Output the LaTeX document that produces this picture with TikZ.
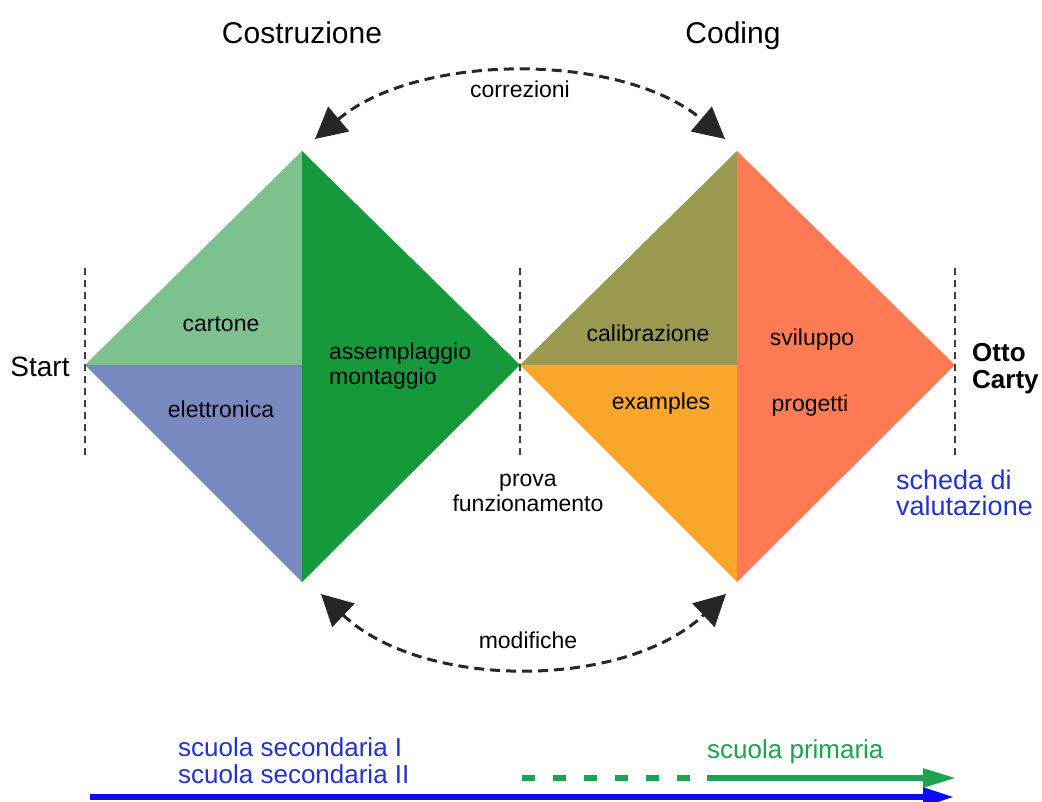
\documentclass[tikz,border=0pt]{standalone}
\usepackage{fontspec}
\setmainfont{Liberation Sans}
\usetikzlibrary{arrows.meta}

\definecolor{cartonecol}{HTML}{7DC18E}
\definecolor{elettrcol}{HTML}{7A88C0}
\definecolor{montcol}{HTML}{16993A}
\definecolor{calibcol}{HTML}{9B9850}
\definecolor{examcol}{HTML}{FAA62D}
\definecolor{svilcol}{HTML}{FF7B55}
\definecolor{schedablue}{HTML}{2233CC}
\definecolor{arrowblue}{HTML}{0A0AF5}
\definecolor{primgreen}{HTML}{1BA34F}

\begin{document}
\begin{tikzpicture}[x=1pt,y=-1pt,
	lab/.style={font=\fontsize{23}{25}\selectfont, inner sep=0pt},
	head/.style={font=\fontsize{30}{32}\selectfont, inner sep=0pt, anchor=base},
	sep/.style={black!75, line width=2pt, dash pattern=on 7pt off 5pt},
	feedback/.style={black!85, line width=3pt, dash pattern=on 10pt off 6pt,
		{Triangle[length=31pt,width=32pt]}-{Triangle[length=31pt,width=32pt]}}]
	\useasboundingbox (0,0) rectangle (1042,802);
	
	% Corners of the two squares
	\coordinate (S) at (85,365);   % Start
	\coordinate (A) at (302,151);
	\coordinate (B) at (302,365);
	\coordinate (C) at (302,582);
	\coordinate (P) at (520,365);  % prova funzionamento
	\coordinate (D) at (737,151);
	\coordinate (E) at (737,365);
	\coordinate (F) at (737,582);
	\coordinate (O) at (955,365);  % Otto Carty
	
	% Filling Costruzione
	\fill[cartonecol] (S) -- (A) -- (B) -- cycle;
	\fill[elettrcol] (S) -- (B) -- (C) -- cycle;
	\fill[montcol] (A) -- (P) -- (C) -- cycle;
	
	% Filling Coding
	\fill[calibcol] (P) -- (D) -- (E) -- cycle;
	\fill[examcol] (P) -- (E) -- (F) -- cycle;
	\fill[svilcol] (D) -- (O) -- (F) -- cycle;
	
	% Milestones
	\foreach \x in {85,520,955}
		\draw[sep] (\x,268) -- (\x,458);
	
	\node[head] (costr) at (302,44) {Costruzione};
	\node[head] (coding) at (733,44) {Coding};
	
	\node[lab] (cart) at (221,324) {cartone};
	\node[lab] (elet) at (221,409) {elettronica};
	\node[lab, anchor=west, align=left] (assem) at (329,366) {assemplaggio\\montaggio};
	\node[lab] (calib) at (648,333) {calibrazione};
	\node[lab] (exam) at (661,404) {examples};
	\node[lab] (svil) at (812,340) {sviluppo};
	\node[lab] (prog) at (810,406) {progetti};
	
	\node[font=\fontsize{28}{30}\selectfont, inner sep=0pt] (start) at (40,367) {Start};
	\node[lab, align=center] (prova) at (528,493) {prova\\funzionamento};
	\node[font=\bfseries\fontsize{26}{27}\selectfont, inner sep=0pt, anchor=west, align=left] (otto) at (972,369) {Otto\\Carty};
	\node[font=\fontsize{27}{26}\selectfont, text=schedablue, inner sep=0pt, anchor=west, align=left] (scheda) at (896,493) {scheda di\\valutazione};
	
	% Loops between the two phases
	\coordinate (corrL) at (315,139);
	\coordinate (corrR) at (725,139);
	\draw[feedback] (corrL) .. controls (418,52) and (622,52) .. (corrR);
	\node[lab] (corr) at (520,89) {correzioni};
	
	\coordinate (modL) at (321,594);
	\coordinate (modR) at (726,594);
	\draw[feedback] (modL) .. controls (422,690) and (624,690) .. (modR);
	\node[lab] (modif) at (528,640) {modifiche};
	
	% School levels
	\node[font=\fontsize{26}{27}\selectfont, text=schedablue, inner sep=0pt, anchor=west, align=left] (second) at (178,761) {scuola secondaria I\\scuola secondaria II};
	\node[font=\fontsize{26}{27}\selectfont, text=primgreen, inner sep=0pt, anchor=west] (prim) at (707,752) {scuola primaria};
	
	\coordinate (gA) at (522,778);
	\coordinate (gB) at (693,778);
	\coordinate (gC) at (707,778);
	\coordinate (gD) at (956,778);
	\draw[primgreen, line width=5.5pt, dash pattern=on 13pt off 18pt] (gA) -- (gB);
	\draw[primgreen, line width=5.5pt, -{Triangle[length=33pt,width=18pt]}] (gC) -- (gD);
	
	\coordinate (bA) at (90,797);
	\coordinate (bB) at (954,797);
	\draw[arrowblue, line width=5.5pt, -{Triangle[length=31pt,width=18pt]}] (bA) -- (bB);
	
\end{tikzpicture}
\end{document}
